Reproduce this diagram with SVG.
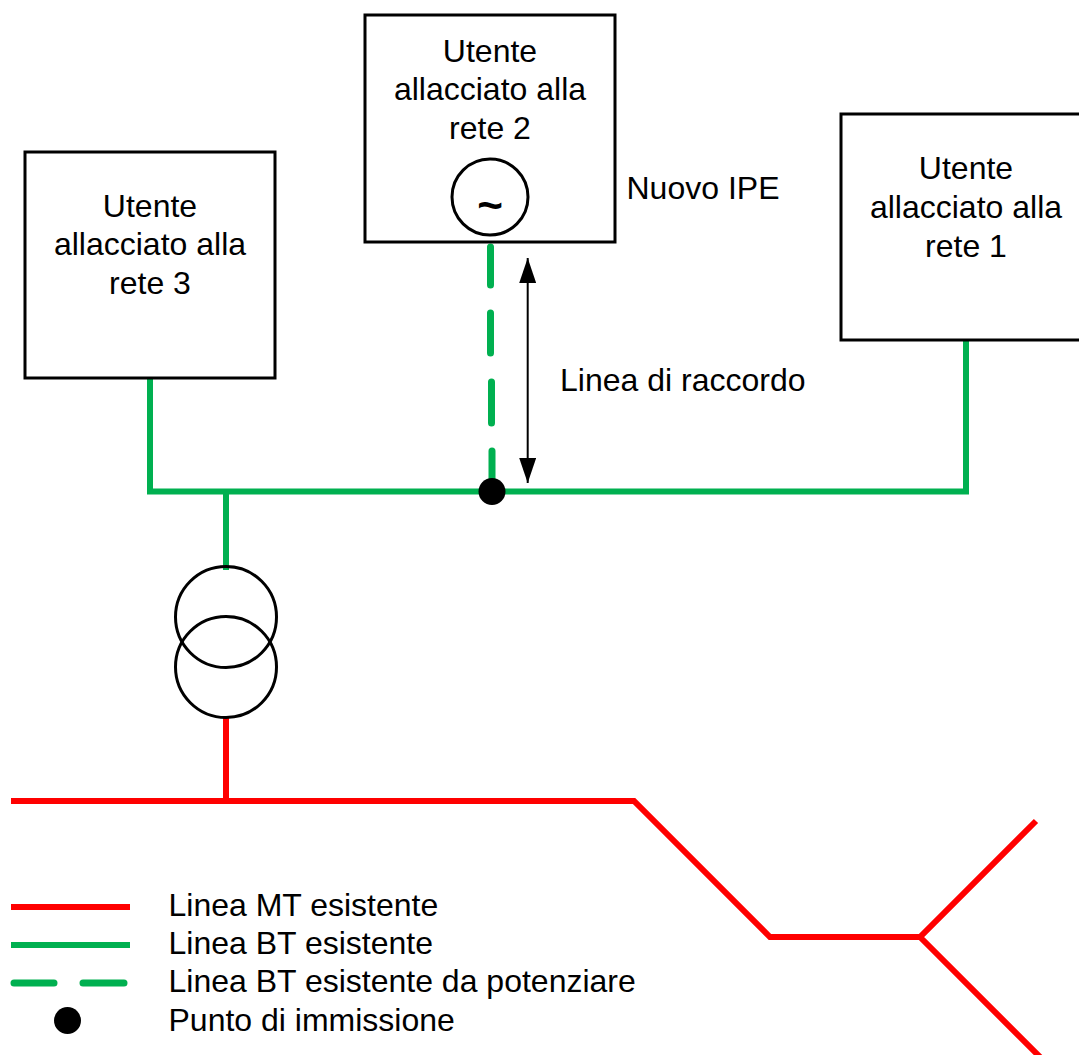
<svg xmlns="http://www.w3.org/2000/svg" width="1079" height="1055" viewBox="0 0 1079 1055">
<style>
text{font-family:"Liberation Sans",Arial,sans-serif;font-size:32px;fill:#000}
.m{text-anchor:middle}
.box{fill:#fff;stroke:#000;stroke-width:3}
.sym{fill:none;stroke:#000;stroke-width:3}
.g{fill:none;stroke:#00b050;stroke-width:6}
.r{fill:none;stroke:#f00;stroke-width:6}
.d{fill:none;stroke:#00b050;stroke-width:7;stroke-linecap:round}
.a{stroke:#000;stroke-width:2;fill:none;marker-start:url(#ah);marker-end:url(#ah)}
</style>
<defs><marker id="ah" markerUnits="userSpaceOnUse" markerWidth="25" markerHeight="17" refX="25" refY="8.5" orient="auto-start-reverse" viewBox="0 0 25 17"><path d="M0 0L25 8.5L0 17Z" fill="#000"/></marker></defs>
<g id="connectors">
<path class="r" d="M11 801H634L770 937H920L1036 821M920 937L1041 1058"/>
<path class="r" d="M226 716V804"/>
<path class="g" d="M150 376V491.500H966V338"/>
<path class="g" d="M226 489V570"/>
<path class="d" d="M490.500 247V285M490.500 313V353M491.500 382V423M492 451V490"/>
<path class="a" d="M527.700 258V483"/>
</g>
<g id="node-3"><rect class="box" x="25" y="152" width="250" height="226"/><text class="m" x="150" y="217">Utente</text><text class="m" x="150" y="255">allacciato alla</text><text class="m" x="150" y="294">rete 3</text></g>
<g id="node-2"><rect class="box" x="365" y="15" width="250" height="227"/><text class="m" x="490" y="62">Utente</text><text class="m" x="490" y="100">allacciato alla</text><text class="m" x="490" y="139">rete 2</text><circle class="sym" cx="490" cy="197" r="38"/><text class="m" x="490" y="220" style="font-size:44px;font-weight:bold">~</text></g>
<g id="node-1"><rect class="box" x="841" y="114" width="250" height="226"/><text class="m" x="966" y="179">Utente</text><text class="m" x="966" y="218">allacciato alla</text><text class="m" x="966" y="257">rete 1</text></g>
<g id="transformer"><circle class="sym" cx="226" cy="617" r="50.500"/><circle class="sym" cx="226" cy="667" r="50.500"/></g>
<g id="junction"><circle cx="492" cy="491.500" r="13.500"/></g>
<g id="labels"><text x="626.500" y="199">Nuovo IPE</text><text x="560" y="391">Linea di raccordo</text></g>
<g id="legend">
<path class="r" d="M11 907H130"/><path class="g" d="M11 945H130"/><path class="d" d="M14 983H54M83 983H124"/><circle cx="67.500" cy="1020.500" r="13.500"/>
<text x="168.500" y="916">Linea MT esistente</text><text x="168.500" y="954">Linea BT esistente</text><text x="168.500" y="992">Linea BT esistente da potenziare</text><text x="168.500" y="1031">Punto di immissione</text>
</g>
</svg>
